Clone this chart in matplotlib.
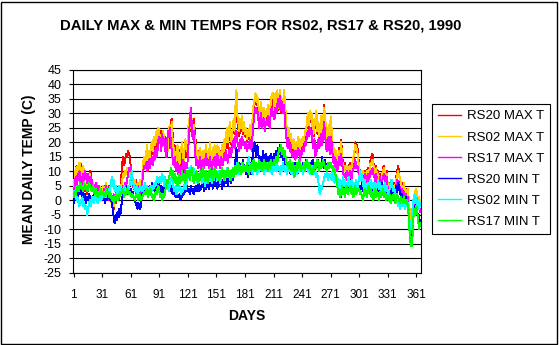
import numpy as np
import matplotlib
matplotlib.use("Agg")
import matplotlib.pyplot as plt
from matplotlib.patches import Rectangle

plt.rcParams['font.family'] = ['Liberation Sans', 'DejaVu Sans']

title = "DAILY MAX & MIN TEMPS FOR RS02, RS17 & RS20, 1990"
x_label = "DAYS"
y_label = "MEAN DAILY TEMP (C)"
series_names = ["RS20 MAX T", "RS02 MAX T", "RS17 MAX T",
                "RS20 MIN T", "RS02 MIN T", "RS17 MIN T"]
series_colors = ["#FF0000", "#FFCC00", "#FF00FF", "#0000FF", "#00FFFF", "#00FF00"]
x_ticks = list(range(1, 366, 30))
y_ticks = list(range(-25, 46, 5))

rs20_max = [
    4, 7, 10, 12, 8, 12, 11, 13, 9, 12,
    10, 6, 3, 5, 2, 4, 8, 10, 9, 6,
    3, 5, 2, 4, 3, 5, 2, 4, 3, 2,
    4, 3, 5, 1, 3, 4, 2, 5, 3, 1,
    0, -2, -3, 1, -1, 2, 0, 3, 1, 4,
    8, 13, 15, 12, 14, 16, 15, 17, 16, 15,
    11, 7, 5, 6, 4, 7, 3, 5, 4, 6,
    3, 5, 7, 11, 14, 12, 15, 13, 10, 14,
    17, 15, 19, 16, 21, 18, 22, 17, 20, 23,
    22, 20, 24, 21, 23, 19, 22, 17, 15, 20,
    18, 24, 27, 28, 22, 16, 19, 14, 11, 15,
    18, 12, 10, 14, 16, 9, 13, 18, 20, 15,
    22, 26, 24, 28, 27, 23, 28, 25, 21, 16,
    13, 15, 17, 12, 14, 16, 13, 15, 12, 17,
    14, 16, 13, 18, 15, 12, 16, 14, 17, 13,
    15, 18, 13, 16, 14, 17, 12, 15, 19, 16,
    20, 23, 18, 22, 25, 21, 19, 24, 26, 23,
    30, 31, 27, 25, 22, 26, 24, 28, 23, 25,
    22, 24, 20, 23, 21, 25, 22, 20, 27, 31,
    34, 36, 33, 35, 32, 28, 30, 33, 27, 29,
    31, 26, 30, 28, 32, 29, 27, 33, 35, 31,
    34, 30, 36, 32, 35, 31, 33, 37, 30, 34,
    32, 36, 33, 27, 23, 21, 24, 20, 22, 19,
    17, 20, 18, 16, 19, 17, 21, 18, 16, 20,
    18, 21, 19, 23, 22, 26, 28, 25, 30, 27,
    29, 24, 22, 27, 25, 30, 23, 26, 21, 24,
    28, 22, 26, 33, 29, 24, 20, 22, 25, 19,
    28, 24, 18, 15, 17, 13, 16, 12, 14, 18,
    15, 21, 16, 12, 10, 13, 9, 11, 12, 10,
    13, 11, 9, 12, 14, 16, 20, 17, 19, 15,
    12, 8, 10, 7, 9, 8, 10, 7, 9, 11,
    8, 12, 14, 15, 16, 13, 11, 8, 12, 6,
    10, 7, 9, 5, 8, 11, 12, 9, 8, 10,
    5, 3, 6, 4, 2, 5, 3, 6, 4, 8,
    10, 12, 9, 7, 4, 6, 3, 5, 2, 4,
    1, 3, 0, -5, -9, -12, -8, -3, 0, 2,
    3, 1, -1, 0, -2,
]

rs02_max = [
    5, 8, 11, 9, 12, 10, 13, 9, 11, 8,
    12, 7, 4, 6, 3, 5, 7, 9, 6, 4,
    6, 3, 5, 4, 6, 3, 4, 5, 2, 4,
    3, 5, 2, 4, 6, 3, 1, 4, 2, 0,
    -1, 1, -2, 0, 2, 1, 3, 2, 4, 3,
    5, 7, 9, 8, 10, 9, 11, 8, 10, 9,
    7, 5, 6, 4, 7, 5, 3, 6, 4, 5,
    7, 6, 9, 13, 15, 12, 16, 19, 14, 17,
    15, 18, 20, 17, 22, 19, 21, 24, 20, 25,
    23, 21, 22, 19, 24, 20, 18, 16, 21, 17,
    25, 26, 23, 27, 20, 18, 15, 13, 17, 19,
    14, 12, 16, 18, 20, 13, 15, 21, 19, 17,
    24, 27, 29, 25, 28, 23, 26, 22, 19, 15,
    17, 14, 16, 18, 13, 15, 17, 14, 16, 19,
    15, 17, 14, 20, 16, 13, 18, 15, 19, 14,
    17, 19, 15, 18, 13, 16, 19, 14, 21, 18,
    22, 25, 20, 23, 27, 22, 20, 25, 28, 24,
    33, 38, 29, 27, 24, 28, 25, 29, 24, 27,
    23, 25, 21, 24, 22, 26, 23, 21, 29, 33,
    35, 37, 34, 36, 33, 29, 31, 34, 28, 30,
    32, 27, 31, 29, 33, 30, 28, 34, 36, 37,
    35, 31, 37, 33, 38, 32, 34, 38, 31, 35,
    33, 38, 34, 29, 24, 22, 25, 21, 23, 20,
    18, 21, 19, 17, 20, 18, 22, 19, 17, 21,
    19, 22, 20, 24, 23, 27, 30, 26, 31, 28,
    30, 25, 23, 28, 26, 31, 24, 27, 22, 25,
    29, 23, 27, 32, 30, 25, 21, 23, 26, 20,
    29, 25, 19, 16, 18, 14, 17, 13, 15, 17,
    14, 20, 15, 11, 10, 12, 10, 12, 11, 9,
    12, 10, 10, 13, 15, 17, 19, 18, 17, 14,
    11, 9, 10, 8, 10, 9, 9, 8, 10, 10,
    9, 11, 13, 12, 14, 12, 10, 9, 11, 7,
    9, 8, 8, 6, 9, 10, 11, 10, 9, 9,
    6, 4, 5, 5, 3, 4, 4, 5, 5, 7,
    9, 10, 8, 8, 5, 5, 4, 6, 3, 3,
    2, 4, 1, -3, -7, -10, -6, -1, 1, 3,
    4, 2, 0, 1, -1,
]

rs17_max = [
    2, 5, 8, 4, 9, 7, 10, 6, 8, 5,
    9, 7, 10, 8, 6, 9, 7, 5, 8, 6,
    4, 5, 3, 6, 4, 2, 5, 3, 4, 2,
    3, 1, 4, 2, 5, 3, 0, 2, 4, 1,
    -1, 0, 2, -1, 1, 3, 2, 0, 3, 2,
    4, 3, 5, 4, 6, 5, 7, 9, 11, 10,
    12, 9, 6, 4, 5, 3, 2, 4, 3, 5,
    2, 4, 6, 10, 12, 11, 13, 10, 12, 14,
    11, 13, 15, 12, 16, 14, 18, 15, 17, 21,
    22, 20, 17, 23, 19, 21, 18, 15, 19, 24,
    22, 25, 20, 17, 14, 12, 15, 11, 10, 13,
    9, 12, 10, 8, 11, 14, 12, 9, 13, 11,
    15, 22, 27, 32, 26, 21, 24, 19, 15, 12,
    14, 11, 13, 15, 10, 12, 14, 11, 13, 16,
    12, 14, 11, 15, 13, 10, 14, 12, 15, 11,
    13, 16, 12, 14, 11, 15, 13, 12, 16, 14,
    17, 15, 13, 16, 18, 15, 17, 19, 21, 18,
    22, 24, 20, 19, 17, 21, 18, 22, 19, 20,
    18, 20, 17, 19, 18, 21, 19, 17, 23, 27,
    30, 32, 30, 31, 28, 25, 27, 30, 25, 26,
    28, 24, 27, 26, 29, 27, 25, 30, 32, 29,
    30, 28, 32, 30, 33, 35, 32, 36, 31, 34,
    30, 33, 28, 23, 20, 18, 21, 17, 19, 16,
    15, 17, 16, 14, 17, 15, 18, 16, 14, 17,
    16, 18, 17, 20, 19, 22, 24, 22, 25, 23,
    24, 20, 18, 21, 15, 19, 17, 21, 18, 20,
    23, 19, 22, 27, 24, 19, 17, 20, 22, 16,
    22, 20, 16, 13, 15, 11, 14, 10, 12, 15,
    12, 16, 13, 10, 8, 9, 7, 10, 9, 8,
    10, 9, 7, 10, 11, 12, 14, 11, 12, 10,
    9, 7, 8, 6, 8, 7, 9, 6, 7, 9,
    6, 8, 10, 9, 11, 9, 8, 6, 9, 5,
    7, 6, 8, 4, 6, 8, 9, 7, 6, 8,
    4, 2, 4, 3, 1, 3, 2, 4, 3, 5,
    7, 6, 5, 4, 2, 4, 1, 3, 0, 2,
    -1, 1, -4, -10, -14, -13, -9, -4, -2, 0,
    1, -1, -3, -2, -4,
]

rs20_min = [
    -1, 0, 2, 4, 1, 3, 5, 2, 4, 1,
    3, 0, 2, -1, 1, 0, 2, 1, -1, 1,
    0, 2, 1, 0, 2, 1, 3, 0, 1, 2,
    1, 0, 2, -1, 1, 0, 1, 2, 0, 1,
    -1, -3, -6, -8, -5, -7, -4, -6, -3, -5,
    -2, 1, 3, 2, 4, 3, 5, 2, 4, 3,
    4, 2, 3, 1, 0, -1, -2, -3, -1, -2,
    -3, 0, 2, 4, 3, 5, 3, 4, 2, 4,
    5, 3, 6, 4, 5, 3, 6, 5, 4, 6,
    4, 3, 5, 2, 4, 6, 3, 5, 7, 4,
    6, 3, 5, 4, 2, 4, 3, 1, 3, 2,
    1, 2, 0, 2, 1, 3, 2, 4, 3, 5,
    3, 4, 2, 5, 3, 4, 2, 3, 5, 3,
    4, 6, 3, 5, 4, 6, 5, 3, 6, 4,
    7, 5, 4, 6, 5, 7, 4, 6, 8, 5,
    6, 4, 7, 5, 8, 6, 4, 7, 5, 9,
    6, 8, 5, 7, 9, 6, 8, 7, 10, 9,
    14, 18, 12, 10, 13, 11, 9, 12, 14, 10,
    11, 9, 12, 8, 10, 13, 9, 11, 15, 18,
    20, 17, 15, 19, 16, 14, 12, 15, 13, 17,
    14, 11, 16, 13, 15, 12, 14, 16, 13, 15,
    14, 16, 13, 17, 15, 18, 16, 19, 15, 17,
    14, 16, 13, 11, 12, 10, 13, 11, 9, 12,
    10, 11, 13, 10, 12, 9, 11, 13, 10, 12,
    11, 13, 10, 12, 14, 11, 13, 12, 10, 13,
    11, 14, 12, 10, 13, 11, 12, 14, 11, 13,
    12, 15, 13, 11, 14, 12, 10, 13, 11, 12,
    13, 11, 12, 10, 11, 9, 7, 5, 3, 4,
    2, 1, 3, 5, 2, 4, 6, 3, 5, 4,
    7, 5, 3, 6, 4, 5, 3, 6, 4, 5,
    3, 5, 4, 6, 3, 5, 7, 4, 2, 5,
    3, 4, 6, 3, 5, 2, 4, 6, 3, 5,
    4, 2, 5, 3, 6, 4, 2, 5, 3, 4,
    2, 3, 1, 4, 2, 3, 1, 4, 3, 5,
    2, 6, 4, 3, 1, 2, 0, 1, -1, 1,
    0, -1, -4, -10, -15, -16, -12, -6, -2, -4,
    -1, -3, -8, -5, -9,
]

rs02_min = [
    3, 1, 2, 0, 1, -1, -2, 0, -1, 1,
    -2, -1, -3, -2, -5, -3, -1, 0, -2, 1,
    0, -1, 2, 0, 1, -1, 0, 2, 1, 0,
    2, 1, 3, 2, 1, 3, 2, 4, 3, 6,
    8, 5, 7, 3, 5, 4, 2, 3, 5, 4,
    2, 4, 3, 5, 2, 4, 3, 5, 4, 6,
    8, 10, 7, 5, 4, 3, 5, 2, 4, 3,
    5, 4, 3, 5, 4, 6, 3, 5, 4, 2,
    4, 5, 3, 5, 4, 6, 5, 7, 8, 6,
    7, 8, 6, 9, 7, 5, 8, 6, 4, 6,
    3, 5, 7, 8, 6, 4, 3, 5, 2, 4,
    3, 5, 4, 2, 4, 3, 5, 6, 4, 7,
    8, 11, 9, 12, 10, 8, 11, 9, 7, 8,
    6, 9, 7, 10, 8, 6, 9, 7, 5, 8,
    6, 9, 7, 10, 8, 6, 9, 7, 10, 8,
    9, 7, 10, 8, 6, 9, 11, 8, 10, 7,
    9, 11, 8, 10, 7, 9, 10, 8, 11, 9,
    12, 10, 13, 11, 9, 12, 10, 13, 11, 12,
    10, 12, 11, 13, 15, 12, 10, 11, 9, 12,
    10, 13, 11, 9, 12, 10, 11, 13, 10, 12,
    9, 11, 10, 12, 13, 11, 10, 12, 9, 11,
    12, 10, 11, 13, 10, 12, 11, 9, 12, 10,
    13, 11, 10, 12, 9, 11, 10, 12, 11, 9,
    11, 10, 12, 10, 11, 9, 12, 10, 11, 12,
    11, 9, 12, 10, 11, 13, 10, 12, 9, 11,
    10, 12, 11, 9, 10, 8, 9, 7, 3, 2,
    5, 4, 6, 7, 9, 8, 10, 7, 9, 8,
    9, 7, 10, 8, 6, 9, 7, 8, 6, 5,
    7, 4, 6, 8, 5, 7, 4, 6, 5, 8,
    6, 4, 7, 5, 3, 6, 5, 7, 4, 6,
    8, 10, 7, 9, 6, 4, 7, 5, 3, 6,
    4, 5, 7, 4, 6, 5, 3, 6, 4, 5,
    7, 4, 6, 3, 5, 2, 4, 6, 3, 5,
    3, 1, 4, 6, 7, 5, 3, 4, 2, 0,
    -1, -2, 0, -3, -1, -2, 0, -1, -3, -2,
    0, -1, -4, -8, -10, -7, -3, 0, 2, -1,
    1, -2, 0, -3, -1,
]

rs17_min = [
    1, 3, 2, 5, 4, 3, 5, 6, 4, 5,
    3, 6, 4, 5, 3, 4, 6, 5, 4, 3,
    5, 4, 2, 4, 3, 1, 3, 2, 4, 3,
    2, 3, 1, 2, 4, 2, 3, 1, 3, 2,
    0, 1, -1, 0, 2, 1, 0, 2, 1, 3,
    2, 4, 3, 1, 3, 2, 4, 3, 2, 3,
    2, 1, 2, 1, 0, 1, 2, 1, 0, 2,
    1, 0, 1, 2, 3, 2, 4, 3, 1, 2,
    4, 3, 1, 2, 0, 1, 3, 2, 4, 5,
    3, 1, 2, 0, 2, 1, 3, 5, 7, 6,
    8, 9, 11, 8, 10, 7, 9, 6, 8, 5,
    7, 9, 6, 8, 10, 7, 9, 6, 8, 10,
    8, 10, 7, 9, 11, 8, 6, 9, 7, 10,
    8, 6, 9, 7, 10, 8, 11, 9, 7, 10,
    8, 6, 9, 11, 8, 10, 7, 9, 11, 8,
    10, 8, 9, 7, 10, 8, 11, 9, 7, 10,
    8, 9, 11, 8, 10, 7, 9, 11, 8, 10,
    12, 9, 11, 13, 10, 12, 9, 11, 13, 10,
    12, 10, 13, 11, 9, 12, 10, 13, 11, 14,
    12, 10, 13, 11, 12, 14, 11, 13, 10, 12,
    14, 11, 13, 12, 10, 13, 11, 14, 12, 13,
    12, 14, 13, 15, 13, 16, 18, 17, 19, 16,
    18, 15, 17, 14, 12, 13, 11, 14, 12, 10,
    13, 11, 8, 12, 10, 13, 11, 14, 12, 10,
    12, 11, 13, 10, 12, 14, 11, 13, 12, 10,
    9, 11, 10, 12, 13, 11, 14, 12, 10, 13,
    11, 12, 14, 13, 11, 12, 10, 13, 11, 12,
    13, 11, 12, 10, 11, 9, 7, 5, 2, 4,
    1, 3, 5, 2, 4, 1, 3, 5, 2, 4,
    3, 5, 2, 4, 1, 3, 5, 2, 4, 3,
    4, 2, 3, 1, 0, 2, 4, 3, 1, 3,
    5, 2, 4, 1, 3, 0, 2, 4, 1, 3,
    2, 0, 3, 1, 2, 4, 1, 3, 0, 2,
    1, 0, 2, -1, 1, 0, 2, 1, -1, 0,
    2, 1, 0, -1, 1, 0, -1, 1, 0, -1,
    0, -2, -5, -11, -15, -16, -13, -6, -3, -5,
    -2, -4, -7, -10, -8,
]

series = [rs20_max, rs02_max, rs17_max, rs20_min, rs02_min, rs17_min]

W, H = 559, 345
fig = plt.figure(figsize=(W / 100, H / 100), dpi=100)
fig.patch.set_facecolor("white")

ax_left, ax_right = 73.3, 421.0
ax_top, ax_bottom = 70.0, 272.5
ax = fig.add_axes([ax_left / W, 1 - ax_bottom / H,
                   (ax_right - ax_left) / W, (ax_bottom - ax_top) / H])

handles = []
for vals, name, col in zip(series, series_names, series_colors):
    days = np.arange(1, len(vals) + 1)
    ln, = ax.plot(days, vals, color=col, lw=0.7, label=name, zorder=3,
                  antialiased=False)
    handles.append(ln)

ax.set_xlim(0.5, 366)
ax.set_ylim(-25, 45)
ax.set_xticks(x_ticks)
ax.set_xticklabels([str(t) for t in x_ticks])
ax.set_yticks(y_ticks)
ax.set_yticklabels([str(t) for t in y_ticks])
ax.yaxis.grid(True, color="black", lw=0.8, zorder=1)
ax.set_axisbelow(True)
for sp in ax.spines.values():
    sp.set_color("black")
    sp.set_linewidth(0.8)
ax.tick_params(axis="both", direction="out", length=3, width=0.8, color="black")
ax.tick_params(axis="y", labelsize=9, pad=5.5)
ax.tick_params(axis="x", labelsize=8.5, pad=9)

fig.text(260.5 / W, 1 - 25 / H, title, ha="center", va="center",
         fontsize=10.7, fontweight="bold")
fig.text(29 / W, 1 - 169 / H, y_label, ha="center", va="center",
         rotation=90, fontsize=10, fontweight="bold")
fig.text(246.7 / W, 1 - 316.5 / H, x_label, ha="center", va="center",
         fontsize=10, fontweight="bold")

leg = fig.legend(handles, series_names, loc="upper left",
                 bbox_to_anchor=(432.3 / W, 1 - 104.3 / H),
                 bbox_transform=fig.transFigure, borderaxespad=0,
                 frameon=True, fancybox=False, shadow=False, framealpha=1,
                 edgecolor="black", fontsize=9.5, handlelength=1.75,
                 handletextpad=0.4, labelspacing=0.67, borderpad=0.45)
leg.get_frame().set_linewidth(0.8)
for lh in leg.get_lines():
    lh.set_linewidth(1.0)

fig.add_artist(Rectangle((1.5 / W, 1.5 / H), (556.5 - 1.5) / W, (343.5 - 1.5) / H,
                         transform=fig.transFigure, fill=False,
                         edgecolor="black", lw=1.0))

fig.savefig("out.png", dpi=100)
